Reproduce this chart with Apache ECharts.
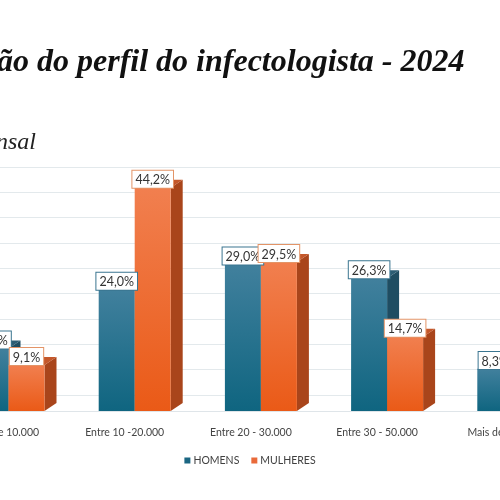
<!DOCTYPE html>
<html>
<head>
<meta charset="UTF-8">
<title>Perfil do infectologista - 2024</title>
<script src="https://cdn.jsdelivr.net/npm/echarts@6/dist/echarts.min.js"></script>
<style>
	html, body { margin: 0; padding: 0; background: #fff; }
	#chart { width: 500px; height: 500px; }
</style>
</head>
<body>
	<div id="chart"></div>
	<script type="text/javascript">
		// faixas de renda mensal (a imagem corta a primeira e a ultima)
		var categories = [ 'Menos de 10.000', 'Entre 10 -20.000', 'Entre 20 - 30.000',
				'Entre 30 - 50.000', 'Mais de 50.000' ];
		var homens = [ 12.4, 24.0, 29.0, 26.3, 8.3 ];
		var mulheres = [ 9.1, 44.2, 29.5, 14.7, 2.5 ];
		var seriesNames = [ 'HOMENS', 'MULHERES' ];

		var chart = echarts.init(document.getElementById('chart'));

		var BAR_W = 36, DX = 12, DY = 8;
		var looks = {
			HOMENS : {
				offset : -26,
				front : [ '#41809d', '#0f6580' ],
				side : '#1f4d62',
				top : '#2c5d74',
				border : '#3a7590'
			},
			MULHERES : {
				offset : 10,
				front : [ '#f17f4f', '#ea5a17' ],
				side : '#a9451b',
				top : '#c4572a',
				border : '#e39467'
			}
		};

		function fmt(v) {
			return v.toFixed(1).replace('.', ',') + '%';
		}

		function bar3d(name) {
			var lk = looks[name];
			return function(params, api) {
				var cat = api.value(0), val = api.value(1);
				var top = api.coord([ cat, val ]);
				var base = api.coord([ cat, 0 ]);
				var x0 = top[0] + lk.offset;
				var y0 = top[1], y1 = base[1];
				return {
					type : 'group',
					children : [ {
						type : 'polygon',
						shape : {
							points : [ [ x0 + BAR_W, y0 ], [ x0 + BAR_W + DX, y0 - DY ],
									[ x0 + BAR_W + DX, y1 - DY ], [ x0 + BAR_W, y1 ] ]
						},
						style : { fill : lk.side }
					}, {
						type : 'polygon',
						shape : {
							points : [ [ x0, y0 ], [ x0 + DX, y0 - DY ],
									[ x0 + BAR_W + DX, y0 - DY ], [ x0 + BAR_W, y0 ] ]
						},
						style : { fill : lk.top }
					}, {
						type : 'rect',
						shape : { x : x0, y : y0, width : BAR_W, height : y1 - y0 },
						style : {
							fill : new echarts.graphic.LinearGradient(0, 0, 0, 1, [
								{ offset : 0, color : lk.front[0] },
								{ offset : 1, color : lk.front[1] } ])
						}
					}, {
						type : 'text',
						z2 : 50,
						style : {
							text : fmt(val),
							x : x0 + BAR_W / 2,
							y : y0,
							align : 'center',
							verticalAlign : 'bottom',
							font : '12.5px Lato, sans-serif',
							fill : '#333',
							backgroundColor : '#fff',
							borderColor : lk.border,
							borderWidth : 1,
							padding : [ 3, 3, 1, 3 ]
						}
					} ]
				};
			};
		}

		function toData(arr) {
			var d = [];
			for (var i = 0; i < arr.length; i++) {
				d.push([ i, arr[i] ]);
			}
			return d;
		}

		chart.setOption({
			backgroundColor : '#fff',
			animation : false,
			graphic : [ {
				type : 'text',
				left : -3,
				top : 47,
				style : {
					text : 'ão do perfil do infectologista - 2024',
					font : 'italic bold 32px "Liberation Serif", serif',
					fill : '#111'
				}
			}, {
				type : 'text',
				left : -4,
				top : 131,
				style : {
					text : 'nsal',
					font : 'italic 24px "Liberation Serif", serif',
					fill : '#222'
				}
			} ],
			legend : {
				data : seriesNames,
				left : 'center',
				top : 450,
				itemWidth : 6,
				itemHeight : 6,
				itemGap : 12,
				icon : 'rect',
				textStyle : {
					color : '#404040',
					fontSize : 10.5,
					fontFamily : 'Lato, sans-serif',
					padding : [ 0, 0, 0, -2 ]
				}
			},
			grid : [ {
				// parede do fundo, com as linhas de grade
				left : -70,
				right : -70,
				top : 167,
				height : 228,
				outerBoundsMode : 'none'
			}, {
				// barras
				left : -64.6,
				right : -66.4,
				top : 158.5,
				height : 252.5,
				outerBoundsMode : 'none'
			} ],
			xAxis : [ {
				gridIndex : 0,
				type : 'category',
				data : categories,
				show : false
			}, {
				gridIndex : 1,
				type : 'category',
				data : categories,
				offset : 8,
				axisLine : { lineStyle : { color : '#dfe5e9', width : 1 } },
				axisTick : { show : false },
				axisLabel : {
					interval : 0,
					margin : 8,
					color : '#444',
					fontSize : 10.5,
					fontFamily : 'Lato, sans-serif'
				}
			} ],
			yAxis : [ {
				gridIndex : 0,
				type : 'value',
				min : 0,
				max : 45,
				interval : 5,
				axisLabel : { show : false },
				axisLine : { show : false },
				axisTick : { show : false },
				splitLine : { lineStyle : { color : '#e3e9ec', width : 1 } }
			}, {
				gridIndex : 1,
				type : 'value',
				min : 0,
				max : 50,
				show : false
			} ],
			series : [ {
				name : 'HOMENS',
				type : 'custom',
				xAxisIndex : 1,
				yAxisIndex : 1,
				itemStyle : { color : '#1b6682' },
				renderItem : bar3d('HOMENS'),
				data : toData(homens)
			}, {
				name : 'MULHERES',
				type : 'custom',
				xAxisIndex : 1,
				yAxisIndex : 1,
				itemStyle : { color : '#e96a3a' },
				renderItem : bar3d('MULHERES'),
				data : toData(mulheres)
			} ]
		});
	</script>
</body>
</html>
